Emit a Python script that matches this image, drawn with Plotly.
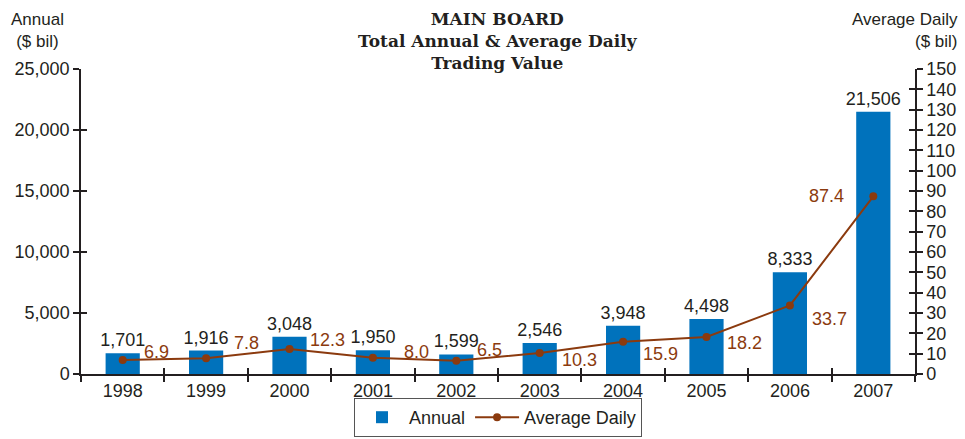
import plotly.graph_objects as go

years = ["1998", "1999", "2000", "2001", "2002", "2003", "2004", "2005", "2006", "2007"]
annual = [1701, 1916, 3048, 1950, 1599, 2546, 3948, 4498, 8333, 21506]
avg_daily = [6.9, 7.8, 12.3, 8.0, 6.5, 10.3, 15.9, 18.2, 33.7, 87.4]
# label offsets (pixels) for the average-daily labels
avg_dx = [34, 40, 38, 44, 33, 40, 37, 38, 40, -47]
avg_dy = [8, 15, 9, 6, 11, -7, -12, -6, -14, 0]

BLUE = "#0072BC"
BROWN = "#8B3A0E"
DARK = "#231F20"
FONT = "Liberation Sans, Arial, sans-serif"
FS = 18

fig = go.Figure()
fig.add_trace(go.Bar(
    x=years, y=annual, name="Annual", marker_color=BLUE,
    text=[f"{v:,}" for v in annual], textposition="outside", constraintext="none",
    textfont=dict(size=FS, color=DARK, family=FONT), cliponaxis=False,
))
fig.add_trace(go.Scatter(
    x=years, y=avg_daily, name="Average Daily", yaxis="y2",
    mode="lines+markers", line=dict(color=BROWN, width=2),
    marker=dict(color=BROWN, size=8),
))
for i, (v, dx, dy) in enumerate(zip(avg_daily, avg_dx, avg_dy)):
    fig.add_annotation(x=i, y=v, xref="x", yref="y2", text=f"{v:.1f}", showarrow=False,
                       xshift=dx, yshift=dy,
                       font=dict(size=FS, color=BROWN, family=FONT))

axis_common = dict(showgrid=False, zeroline=False, showline=True, linecolor=DARK,
                   linewidth=1.5, tickcolor=DARK, tickwidth=1.5, ticklen=6, automargin=False,
                   tickfont=dict(size=FS, color=DARK, family=FONT))
overlay_common = dict(showticklabels=False, showgrid=False, zeroline=False, showline=False,
                      tickcolor=DARK, tickwidth=1.5, ticklen=6, automargin=False)

fig.update_layout(
    template="none",
    width=965, height=439,
    margin=dict(l=81, r=50, t=69, b=65, pad=0),
    plot_bgcolor="white", paper_bgcolor="white",
    bargap=0.59,
    showlegend=True,
    legend=dict(orientation="h", xref="paper", x=0.5, xanchor="center",
                yref="container", y=2 / 439, yanchor="bottom",
                bordercolor="#555555", borderwidth=1, bgcolor="white",
                font=dict(size=18, color=DARK, family=FONT),
                itemwidth=44, tracegroupgap=0),
    xaxis=dict(type="category", range=[-0.5, 9.5], ticks="outside", tickson="boundaries",
               **axis_common),
    yaxis=dict(range=[0, 25000], dtick=5000, tickformat=",d", ticks="outside", **axis_common),
    yaxis2=dict(range=[0, 150], dtick=10, overlaying="y", side="right", anchor="x",
                ticks="outside", **axis_common),
    yaxis3=dict(range=[0, 25000], dtick=5000, overlaying="y", side="left", anchor="x",
                ticks="inside", **overlay_common),
    yaxis4=dict(range=[0, 150], dtick=10, overlaying="y", side="right", anchor="x",
                ticks="inside", **overlay_common),
    xaxis2=dict(type="category", range=[-0.5, 9.5], overlaying="x", side="bottom", anchor="y",
                ticks="inside", tickson="boundaries", categoryarray=years,
                categoryorder="array", **overlay_common),
)

# invisible helper traces so the tick-overlay axes render
fig.add_trace(go.Scatter(x=years, y=annual, xaxis="x2", yaxis="y3", mode="none",
                         showlegend=False, hoverinfo="skip"))
fig.add_trace(go.Scatter(x=years, y=avg_daily, xaxis="x2", yaxis="y4", mode="none",
                         showlegend=False, hoverinfo="skip"))

fig.add_annotation(xref="paper", yref="paper", x=0.5, y=1, yanchor="bottom", yshift=-6,
                   text="<b>MAIN BOARD</b><br><b>Total Annual &amp; Average Daily</b><br><b>Trading Value</b>",
                   showarrow=False, align="center",
                   font=dict(size=17, color=DARK, family="DejaVu Serif, serif"))
fig.add_annotation(xref="paper", yref="paper", x=-81/834, xanchor="left", xshift=9,
                   y=1, yanchor="bottom", yshift=16,
                   text="Annual<br>($ bil)", showarrow=False, align="center",
                   font=dict(size=17, color=DARK, family=FONT))
fig.add_annotation(xref="paper", yref="paper", x=1 + 50/834, xanchor="right", xshift=-5,
                   y=1, yanchor="bottom", yshift=16,
                   text="Average Daily<br>($ bil)", showarrow=False, align="right",
                   font=dict(size=17, color=DARK, family=FONT))

fig.write_html("out.html", config={"displayModeBar": False},
               post_script="document.body.style.margin='0px';document.body.style.overflow='hidden';")
